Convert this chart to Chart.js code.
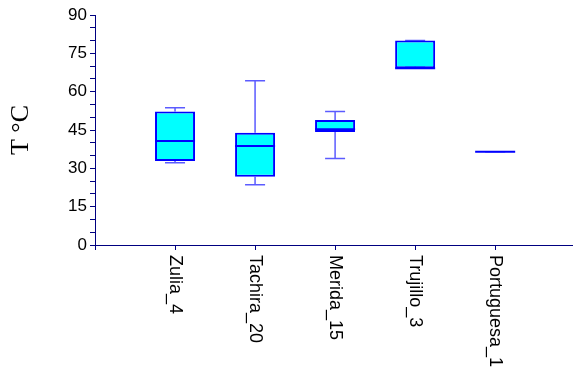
<!DOCTYPE html>
<html>
<head>
<meta charset="utf-8">
<script src="https://cdn.jsdelivr.net/npm/chart.js@4/dist/chart.umd.min.js"></script>
<style>
  html, body { margin: 0; padding: 0; background: #fff; }
  #wrap { width: 574px; height: 370px; }
</style>
</head>
<body>
<div id="wrap"><canvas id="boxChart"></canvas></div>
<script>
// box plot data
const categories = ['Zulia_4', 'Tachira_20', 'Merida_15', 'Trujillo_3', 'Portuguesa_1'];
const minVals    = [32.2, 23.6, 33.8, 70.0, 36.5];
const q1Vals     = [32.9, 26.7, 44.2, 69.2, 36.5];
const medianVals = [40.7, 38.7, 45.3, 69.2, 36.5];
const q3Vals     = [52.2, 43.9, 48.9, 80.0, 36.5];
const maxVals    = [53.7, 64.3, 52.2, 80.0, 36.5];

const yTicks = [0, 15, 30, 45, 60, 75, 90];

const axisColor = '#000080';
const boxHalf = 0.25;   // half box width, in category units
const capHalf = 0.125;  // half whisker cap width

// whisker segments, broken by null points
const whiskerPts = [];
const medianPts = [];
categories.forEach((c, i) => {
  const x = i + 1;
  whiskerPts.push({x: x, y: q3Vals[i]}, {x: x, y: maxVals[i]}, {x: x, y: null});
  whiskerPts.push({x: x, y: q1Vals[i]}, {x: x, y: minVals[i]}, {x: x, y: null});
  whiskerPts.push({x: x - capHalf, y: maxVals[i]}, {x: x + capHalf, y: maxVals[i]}, {x: x, y: null});
  whiskerPts.push({x: x - capHalf, y: minVals[i]}, {x: x + capHalf, y: minVals[i]}, {x: x, y: null});
  medianPts.push({x: x - boxHalf, y: medianVals[i]}, {x: x + boxHalf, y: medianVals[i]}, {x: x, y: null});
});

// category names written downwards under each tick
const catLabels = {
  id: 'catLabels',
  afterDraw(chart) {
    const xs = chart.scales.x;
    const ctx = chart.ctx;
    ctx.save();
    ctx.fillStyle = '#000';
    ctx.font = '18px "Liberation Sans", Arial, sans-serif';
    ctx.textAlign = 'left';
    ctx.textBaseline = 'middle';
    categories.forEach((c, i) => {
      ctx.save();
      ctx.translate(xs.getPixelForValue(i + 1), xs.top + 10);
      ctx.rotate(Math.PI / 2);
      ctx.fillText(c, 0, 0);
      ctx.restore();
    });
    ctx.restore();
  }
};

new Chart(document.getElementById('boxChart'), {
  type: 'bar',
  data: {
    datasets: [
      {
        type: 'line',
        data: medianPts,
        borderColor: '#0000ff',
        borderWidth: 2,
        pointRadius: 0,
        spanGaps: false,
        order: 1
      },
      {
        type: 'line',
        data: whiskerPts,
        borderColor: 'rgba(50, 50, 255, 0.8)',
        borderWidth: 1.5,
        pointRadius: 0,
        spanGaps: false,
        order: 3
      },
      {
        data: categories.map((c, i) => ({x: i + 1, y: [q1Vals[i], q3Vals[i]]})),
        backgroundColor: '#00ffff',
        borderColor: '#0000ff',
        borderWidth: 2,
        borderSkipped: false,
        categoryPercentage: 1,
        barPercentage: 0.5,
        order: 2
      }
    ]
  },
  options: {
    responsive: true,
    maintainAspectRatio: false,
    animation: false,
    layout: { padding: { top: 15, right: 2, left: 0, bottom: 0 } },
    plugins: {
      legend: { display: false },
      tooltip: { enabled: false }
    },
    scales: {
      x: {
        type: 'linear',
        offset: false,
        min: 0,
        max: 5.96,
        ticks: { stepSize: 1, display: false },
        afterBuildTicks: s => { s.ticks = s.ticks.filter(t => Number.isInteger(t.value)); },
        afterFit: s => { s.height = 125; },
        grid: { offset: false, drawOnChartArea: false, tickLength: 5, color: axisColor },
        border: { color: axisColor, width: 1 }
      },
      y: {
        min: 0,
        max: 90,
        ticks: {
          stepSize: 5,
          autoSkip: false,
          padding: 3,
          color: '#000',
          font: { family: '"Liberation Sans", Arial, sans-serif', size: 17 },
          callback: v => yTicks.includes(v) ? v : ''
        },
        afterFit: s => { s.width = 95; },
        grid: { drawOnChartArea: false, tickLength: 5, color: axisColor },
        border: { color: axisColor, width: 1 },
        title: {
          display: true,
          text: 'T °C',
          color: '#000',
          font: { family: '"Liberation Serif", "Times New Roman", serif', size: 26 },
          padding: { top: 6, bottom: 0 }
        }
      }
    }
  },
  plugins: [catLabels]
});
</script>
</body>
</html>
